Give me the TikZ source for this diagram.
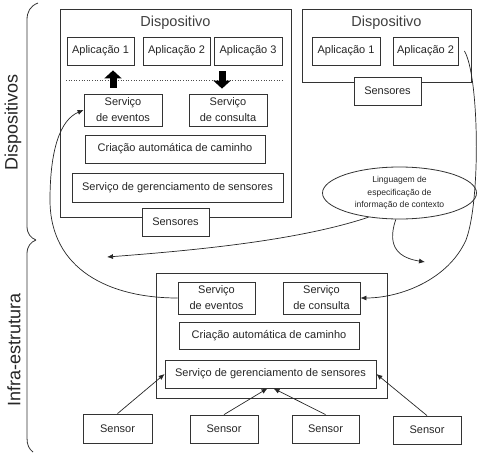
\documentclass[tikz,border=0pt]{standalone}
\usepackage{fontspec}
\setmainfont{Liberation Sans}
\usetikzlibrary{shapes.geometric,arrows.meta}
\begin{document}
\begin{tikzpicture}[x=1pt,y=-1pt,
  every node/.style={font=\fontsize{11}{16}\selectfont, text=black!85},
  box/.style={draw=black!80, line width=0.8pt, fill=white, inner sep=0pt, align=center},
  title/.style={font=\fontsize{14.5}{16}\selectfont, text=black!75},
  side/.style={font=\fontsize{18}{20}\selectfont, rotate=90, text=black!85},
  con/.style={draw=black!85, line width=0.7pt, -{Latex[length=6pt,width=5pt]}},
  blockarrow/.style={draw=black, line width=7pt, -{Triangle[width=17pt,length=8pt]}},
  brace/.style={draw=black!80, line width=0.8pt}]
\useasboundingbox (0,0) rectangle (478,452);

% side labels and braces
\node[side] (lbldev) at (13,122) {Dispositivos};
\node[side] (lblinf) at (14,350) {Infra-estrutura};
\draw[brace] (38,3) .. controls (30,6) and (27,12) .. (27,20) -- (27,226) .. controls (27,234) and (31,238) .. (36,240);
\draw[brace] (36,240) .. controls (31,242) and (27,246) .. (27,254) -- (27,438) .. controls (27,445) and (29,449) .. (33,452);

% device 1
\node[box, minimum width=231pt, minimum height=208pt] (dev1) at (175.5,113) {};
\node[title] (t1) at (175.5,23) {Dispositivo};
\node[box, minimum width=67pt, minimum height=28pt] (a1) at (100.5,51) {Aplicação 1};
\node[box, minimum width=67pt, minimum height=28pt] (a2) at (176.5,51) {Aplicação 2};
\node[box, minimum width=68pt, minimum height=28pt] (a3) at (248,51) {Aplicação 3};
\coordinate (dl) at (66,80);
\coordinate (dr) at (284,80);
\draw[black!70, line width=0.6pt, dotted] (dl) -- (dr);
\node[box, minimum width=78pt, minimum height=32pt] (ev1) at (123,110) {Serviço\\de eventos};
\node[box, minimum width=78pt, minimum height=32pt] (co1) at (228,110) {Serviço\\de consulta};
\node[box, minimum width=180pt, minimum height=28pt] (cr1) at (175,149) {Criação automática de caminho};
\node[box, minimum width=211pt, minimum height=29pt] (ge1) at (177.5,187.5) {Serviço de gerenciamento de sensores};
\node[box, minimum width=67pt, minimum height=28pt] (se1) at (175.5,222) {Sensores};
\draw[blockarrow] ([xshift=-10pt,yshift=6pt]ev1.north) -- ([xshift=12.5pt,yshift=-5pt]a1.south);
\draw[blockarrow] ([xshift=-26pt,yshift=-6pt]a3.south) -- ([xshift=-6pt,yshift=5pt]co1.north);

% device 2
\node[box, minimum width=169pt, minimum height=73pt] (dev2) at (386.5,45.5) {};
\node[title] (t2) at (386.5,23) {Dispositivo};
\node[box, minimum width=68pt, minimum height=28pt] (b1) at (346,51) {Aplicação 1};
\node[box, minimum width=65pt, minimum height=28pt] (b2) at (425.5,51) {Aplicação 2};
\node[box, minimum width=67pt, minimum height=28pt] (se2) at (387.5,91) {Sensores};

% ellipse
\node[draw=black!80, line width=0.8pt, ellipse, minimum width=154pt, minimum height=52pt, inner sep=0pt, align=center,
  font=\fontsize{8.6}{12.5}\selectfont] (ell) at (399.5,193) {Linguagem de\\especificação de\\informação de contexto};

% infrastructure
\node[box, minimum width=231pt, minimum height=125pt] (inf) at (271.5,335.5) {};
\node[box, minimum width=77pt, minimum height=32pt] (ev2) at (216.5,298) {Serviço\\de eventos};
\node[box, minimum width=77pt, minimum height=32pt] (co2) at (321.5,298) {Serviço\\de consulta};
\node[box, minimum width=180pt, minimum height=27pt] (cr2) at (269,335.5) {Criação automática de caminho};
\node[box, minimum width=211pt, minimum height=28pt] (ge2) at (270.5,374) {Serviço de gerenciamento de sensores};

\node[box, minimum width=69pt, minimum height=29pt] (s1) at (117.5,428.5) {Sensor};
\node[box, minimum width=68pt, minimum height=28pt] (s2) at (224,429) {Sensor};
\node[box, minimum width=67pt, minimum height=28pt] (s3) at (325.5,429) {Sensor};
\node[box, minimum width=68pt, minimum height=28pt] (s4) at (427,430) {Sensor};

\draw[con] (s1.north) -- (ge2.west);
\draw[con] (s2.north) -- ([xshift=-3pt]ge2.south);
\draw[con] (s3.north) -- ([xshift=3pt]ge2.south);
\draw[con] (s4.north) -- (ge2.east);

% long curves
\draw[con] (ev2.west) .. controls (110,298) and (50,270) .. (50,200) .. controls (50,150) and (60,120) .. (ev1.west);
\coordinate (c2) at (107,257);
\coordinate (c3) at (425,262);
\draw[con] (ell.218) .. controls (300,240) and (200,250) .. (c2);
\draw[con] (ell.262) .. controls (386,248) and (400,258) .. (c3);
\draw[con] ([xshift=6pt]b2.east) .. controls (479,75) and (481,200) .. (466,240) .. controls (448,280) and (400,298) .. (co2.east);
\end{tikzpicture}
\end{document}
